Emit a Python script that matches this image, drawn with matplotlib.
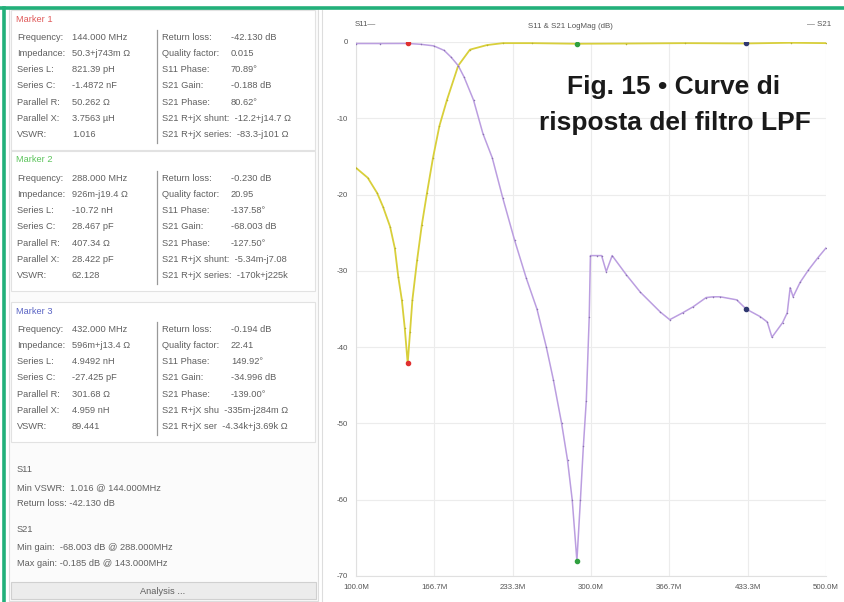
import matplotlib.pyplot as plt
from matplotlib.patches import Rectangle
from matplotlib.lines import Line2D

# sweep data, frequency in MHz, magnitude in dB
s11_freq = [100, 110, 118, 123, 129, 133, 136, 139, 141.5, 144, 146, 148, 152,
            156, 160.4, 165.5, 171, 177.4, 187, 197, 211.5, 225, 250, 288,
            330, 380, 432, 470, 500]
s11_db = [-16.5, -17.8, -19.8, -21.6, -24.2, -27.0, -30.8, -33.8, -37.5, -42.13,
          -38.0, -33.8, -28.6, -24.0, -19.8, -15.2, -11.0, -7.6, -3.1, -1.0,
          -0.4, -0.15, -0.15, -0.23, -0.2, -0.15, -0.19, -0.1, -0.15]

s21_freq = [100, 120, 144, 155, 166, 175, 181, 187, 192, 200, 208, 216, 225, 235,
            245, 254, 262, 268, 275, 280, 284, 288, 291, 293.5, 296, 298.5, 299.5,
            305, 309, 313, 318, 330, 342, 359, 367, 378, 387, 398, 404, 410, 424,
            432, 444, 450, 454, 463, 467, 469.5, 472, 478, 485, 493, 500]
s21_db = [-0.2, -0.2, -0.19, -0.3, -0.5, -1.1, -2.0, -3.1, -4.6, -7.6, -12.0,
          -15.2, -20.5, -26.0, -31.0, -35.0, -40.0, -44.3, -50.0, -54.8, -60.0,
          -68.0, -60.0, -53.0, -47.0, -36.0, -28.0, -28.0, -28.0, -30.1, -28.0,
          -30.5, -32.8, -35.4, -36.4, -35.5, -34.7, -33.5, -33.4, -33.4, -33.8,
          -35.0, -36.0, -36.7, -38.7, -36.8, -35.5, -32.2, -33.4, -31.5, -29.9,
          -28.3, -27.0]

marker_freq = [144, 288, 432]
marker_s11 = [-42.13, -0.23, -0.19]
marker_s21 = [-0.19, -68.0, -35.0]
marker_colors = ["#e03030", "#30a040", "#303870"]

x_ticks = [100.0, 166.7, 233.3, 300.0, 366.7, 433.3, 500.0]
x_labels = ["100.0M", "166.7M", "233.3M", "300.0M", "366.7M", "433.3M", "500.0M"]
y_ticks = [0, -10, -20, -30, -40, -50, -60, -70]

marker_titles = ["Marker 1", "Marker 2", "Marker 3"]
title_colors = ["#e05a5a", "#5cc45c", "#5a64c4"]
left_labels = ["Frequency:", "Impedance:", "Series L:", "Series C:",
               "Parallel R:", "Parallel X:", "VSWR:"]
left_values = [
    ["144.000 MHz", "50.3+j743m Ω", "821.39 pH", "-1.4872 nF", "50.262 Ω",
     "3.7563 µH", "1.016"],
    ["288.000 MHz", "926m-j19.4 Ω", "-10.72 nH", "28.467 pF", "407.34 Ω",
     "28.422 pF", "62.128"],
    ["432.000 MHz", "596m+j13.4 Ω", "4.9492 nH", "-27.425 pF", "301.68 Ω",
     "4.959 nH", "89.441"],
]
right_labels = ["Return loss:", "Quality factor:", "S11 Phase:", "S21 Gain:",
                "S21 Phase:"]
right_values = [
    ["-42.130 dB", "0.015", "70.89°", "-0.188 dB", "80.62°"],
    ["-0.230 dB", "20.95", "-137.58°", "-68.003 dB", "-127.50°"],
    ["-0.194 dB", "22.41", "149.92°", "-34.996 dB", "-139.00°"],
]
# the R+jX rows run label and value together, cut at the panel edge
rjx_rows = [
    ["S21 R+jX shunt:  -12.2+j14.7 Ω", "S21 R+jX series:  -83.3-j101 Ω"],
    ["S21 R+jX shunt:  -5.34m-j7.08", "S21 R+jX series:  -170k+j225k"],
    ["S21 R+jX shu  -335m-j284m Ω", "S21 R+jX ser  -4.34k+j3.69k Ω"],
]
summary_lines = ["S11", "Min VSWR:  1.016 @ 144.000MHz", "Return loss: -42.130 dB",
                 "S21", "Min gain:  -68.003 dB @ 288.000MHz",
                 "Max gain: -0.185 dB @ 143.000MHz"]

W, H = 844, 602
fig = plt.figure(figsize=(W / 100, H / 100), dpi=100)
fig.patch.set_facecolor("white")


def fx(x):
    return x / W


def fy(y):
    return 1 - y / H


txt = dict(fontsize=6.7, color="#606060", family="Liberation Sans", va="center")

# left info panel
fig.patches.append(Rectangle((fx(9), fy(601)), fx(309), 592 / H, transform=fig.transFigure,
                             facecolor="#fbfbfb", edgecolor="#dddddd", lw=0.8))
box_tops = [10, 151, 302]
for k in range(3):
    top = box_tops[k]
    fig.patches.append(Rectangle((fx(11), fy(top + 140)), fx(304), 140 / H,
                                 transform=fig.transFigure, facecolor="white",
                                 edgecolor="#e2e2e2", lw=0.8))
    fig.text(fx(16), fy(top + 9), marker_titles[k], **{**txt, "color": title_colors[k]})
    for i in range(7):
        y = top + 27 + i * 16.3
        fig.text(fx(17), fy(y), left_labels[i], **txt)
        fig.text(fx(72), fy(y), left_values[k][i], **txt)
        if i < 5:
            fig.text(fx(162), fy(y), right_labels[i], **txt)
            fig.text(fx(231), fy(y), right_values[k][i], **txt)
        else:
            fig.text(fx(162), fy(y), rjx_rows[k][i - 5], **txt)
    fig.lines.append(Line2D([fx(157), fx(157)], [fy(top + 20), fy(top + 133)],
                            transform=fig.transFigure, color="#999999", lw=0.9))

summary_y = [469, 488, 503, 530, 547, 563]
for s, y in zip(summary_lines, summary_y):
    fig.text(fx(17), fy(y), s, **txt)

# Analysis button
fig.patches.append(Rectangle((fx(11), fy(599)), fx(305), 17 / H, transform=fig.transFigure,
                             facecolor="#ececec", edgecolor="#d0d0d0", lw=0.8))
fig.text(fx(163), fy(591), "Analysis ...", ha="center", **txt)

# chart separator
fig.lines.append(Line2D([fx(322), fx(322)], [fy(10), fy(601)], transform=fig.transFigure,
                        color="#dddddd", lw=0.8))

# S11 / S21 log magnitude chart
ax = fig.add_axes([fx(356), fy(576), fx(470), 534 / H])
ax.set_xlim(100, 500)
ax.set_ylim(-70, 0)
ax.plot(s11_freq, s11_db, color="#d8cf3a", lw=1.3, marker=".", ms=2.2, mfc="#b8b030",
        mec="none", zorder=3)
ax.plot(s21_freq, s21_db, color="#bb9ee0", lw=1.1, marker=".", ms=2.2, mfc="#8a74b0",
        mec="none", zorder=3)
for f, a, b, c in zip(marker_freq, marker_s11, marker_s21, marker_colors):
    ax.plot([f, f], [a, b], ls="none", marker="o", ms=3.0, color=c, zorder=4)

ax.set_xticks(x_ticks)
ax.set_xticklabels(x_labels)
ax.set_yticks(y_ticks)
ax.set_yticklabels([str(v) for v in y_ticks])
ax.tick_params(length=0, labelsize=5.7, labelcolor="#555555", pad=6)
for lab in ax.get_xticklabels() + ax.get_yticklabels():
    lab.set_family("Liberation Sans")
ax.grid(True, color="#ececec", lw=0.8)
ax.set_axisbelow(True)
for side in ["top", "right"]:
    ax.spines[side].set_visible(False)
for side in ["left", "bottom"]:
    ax.spines[side].set_color("#e0e0e0")
    ax.spines[side].set_linewidth(0.8)

fig.text(fx(570), fy(27), "S11 & S21 LogMag (dB)", ha="center", va="center",
         fontsize=5.7, color="#555555", family="Liberation Sans")
fig.text(fx(355), fy(25), "S11—", ha="left", va="center",
         fontsize=5.7, color="#555555", family="Liberation Sans")
fig.text(fx(831), fy(25), "— S21", ha="right", va="center",
         fontsize=5.7, color="#555555", family="Liberation Sans")

fig.text(fx(674), fy(87), "Fig. 15 • Curve di", ha="center", va="center",
         fontsize=19, weight="bold", color="#1a1a1a", family="Liberation Sans")
fig.text(fx(675), fy(123), "risposta del filtro LPF", ha="center", va="center",
         fontsize=19, weight="bold", color="#1a1a1a", family="Liberation Sans")

# green frame along top and left edge
fig.lines.append(Line2D([0, 1], [fy(7.5), fy(7.5)], transform=fig.transFigure,
                        color="#22b07a", lw=2.6))
fig.lines.append(Line2D([fx(4), fx(4)], [fy(7.5), 0], transform=fig.transFigure,
                        color="#22b07a", lw=2.6))

fig.savefig("out.png", dpi=100)
